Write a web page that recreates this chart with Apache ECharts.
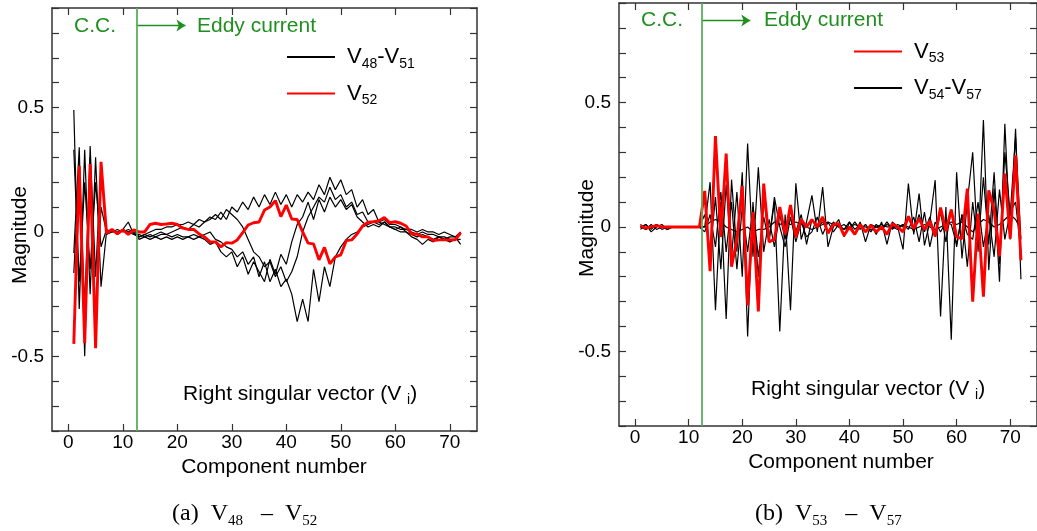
<!DOCTYPE html>
<html>
<head>
<meta charset="utf-8">
<script src="https://cdn.jsdelivr.net/npm/echarts@6/dist/echarts.min.js"></script>
<style>
html,body{margin:0;padding:0;background:#fff;}
#chart{width:1037px;height:531px;}
</style>
</head>
<body>
<div id="chart"></div>
<script>
// ---------- data ----------
const components = [1,2,3,4,5,6,7,8,9,10,11,12,13,14,15,16,17,18,19,20,21,22,23,24,25,26,27,28,29,30,31,32,33,34,35,36,
  37,38,39,40,41,42,43,44,45,46,47,48,49,50,51,52,53,54,55,56,57,58,59,60,61,62,63,64,65,66,67,68,69,70,71,72];
const xTickValues = [0,10,20,30,40,50,60,70];
const yTickValues = [-0.8,-0.7,-0.6,-0.5,-0.4,-0.3,-0.2,-0.1,0,0.1,0.2,0.3,0.4,0.5,0.6,0.7,0.8,0.9];
const yLabelValues = [-0.5,0,0.5];

// panel (a): V48 - V51 (black), V52 (red)
const v48 = [0.49,-0.31,0.33,-0.25,0.30,-0.22,0.00,0.01,-0.01,0.01,0.04,-0.01,-0.02,-0.01,0.00,0.01,0.01,0.02,0.02,0.03,
  0.03,0.04,0.03,0.05,0.04,0.06,0.05,0.08,0.05,0.10,0.08,0.12,0.09,0.14,0.10,0.15,0.11,0.16,0.11,0.15,
  0.10,0.15,0.12,0.16,0.13,0.19,0.15,0.22,0.17,0.21,0.15,0.17,0.10,0.13,0.07,0.09,0.04,0.03,0.02,0.01,
  0.02,0.01,0.01,0.00,0.01,0.00,0.00,-0.01,0.00,-0.01,-0.02,0.00];
const v49 = [0.33,-0.20,0.20,-0.15,0.20,-0.06,0.01,0.00,0.01,0.00,0.01,0.00,-0.03,-0.02,-0.03,-0.02,-0.03,-0.02,-0.03,-0.02,
  -0.03,-0.02,-0.01,-0.02,-0.01,0.00,-0.03,-0.04,-0.06,-0.07,-0.10,-0.08,-0.13,-0.10,-0.18,-0.12,-0.20,-0.15,-0.22,-0.19,
  -0.25,-0.36,-0.27,-0.36,-0.15,-0.28,-0.14,-0.22,-0.10,-0.06,-0.03,-0.01,0.00,0.02,0.03,0.04,0.04,0.05,0.03,0.03,
  0.02,0.00,-0.02,-0.03,-0.05,-0.03,-0.04,-0.02,-0.03,-0.02,-0.02,-0.05];
const v50 = [-0.085,0.34,-0.50,0.345,-0.18,0.27,-0.01,0.00,0.00,0.01,0.00,0.01,-0.02,-0.01,-0.02,-0.01,0.00,-0.01,0.00,0.01,
  0.02,0.01,0.03,0.02,0.04,0.05,0.07,0.05,0.09,0.07,0.05,0.02,-0.03,-0.08,-0.10,-0.14,-0.12,-0.18,-0.14,-0.20,
  -0.16,-0.10,0.00,0.06,0.10,0.14,0.12,0.18,0.13,0.15,0.10,0.12,0.07,0.08,0.04,0.04,0.03,0.04,0.02,0.01,
  0.00,0.00,-0.01,-0.02,-0.01,-0.02,-0.03,-0.02,-0.03,-0.04,-0.03,-0.03];
const v51 = [-0.165,0.25,-0.30,0.30,-0.35,0.10,0.00,0.01,-0.01,0.01,0.00,-0.01,-0.01,-0.02,-0.01,-0.02,-0.01,-0.01,-0.02,-0.01,
  -0.02,-0.02,-0.03,-0.02,-0.03,-0.05,-0.04,-0.08,-0.10,-0.08,-0.14,-0.10,-0.17,-0.12,-0.16,-0.20,-0.11,-0.17,-0.09,-0.13,
  -0.04,0.03,0.06,0.12,0.05,0.13,0.08,0.14,0.10,0.13,0.09,0.11,0.06,0.04,0.02,0.03,0.02,0.04,0.02,0.02,
  0.01,0.01,0.00,-0.01,0.00,-0.01,-0.01,-0.02,-0.02,-0.03,-0.03,-0.01];
const v52 = [-0.45,0.265,-0.447,0.273,-0.467,0.282,-0.005,0.01,-0.008,0.008,-0.01,0.008,0.0,0.0,0.03,0.035,0.03,0.032,0.035,0.03,
  0.015,0.01,0.01,-0.008,-0.02,-0.04,-0.04,-0.06,-0.043,-0.045,-0.032,-0.003,0.028,0.037,0.04,0.088,0.10,0.126,0.062,0.108,
  0.052,0.05,0.0,-0.045,-0.048,-0.112,-0.062,-0.128,-0.10,-0.092,-0.035,-0.032,-0.008,0.024,0.039,0.041,0.045,0.058,0.037,0.041,
  0.035,0.024,-0.008,-0.008,-0.02,-0.02,-0.035,-0.032,-0.032,-0.032,-0.032,-0.003];

// panel (b): V53 (red), V54 - V57 (black)
const v53 = [0.005,-0.005,0.0,0.005,0.0,0.0,0.0,0.0,0.0,0.0,0.0,0.0,
  0.145,-0.178,0.365,-0.04,0.295,-0.16,-0.05,0.164,-0.315,0.06,-0.34,0.174,
  -0.06,-0.05,0.08,-0.03,0.088,-0.04,0.03,0.0,0.03,0.0,0.04,-0.025,
  0.01,0.013,-0.034,0.0,-0.03,0.01,-0.02,0.007,-0.02,0.0,-0.03,0.013,
  0.0,-0.02,0.043,-0.007,0.033,-0.01,0.024,-0.037,0.078,-0.016,0.07,-0.04,
  -0.047,0.154,-0.30,0.054,-0.28,0.147,0.067,-0.118,0.214,-0.047,0.288,-0.134];
const v54 = [0.01,-0.01,0.0,0.01,-0.01,0.0,0.0,0.0,0.0,0.0,0.0,0.0,
  0.0,0.18,-0.335,0.10,-0.37,0.19,-0.10,0.22,-0.44,0.10,-0.20,0.12,
  -0.05,0.10,-0.42,0.05,-0.335,0.175,-0.05,0.02,0.127,-0.02,0.16,-0.08,
  0.0,0.03,-0.04,0.02,-0.03,0.02,-0.06,0.01,-0.03,0.02,-0.07,0.02,
  0.0,-0.09,0.174,-0.03,0.134,-0.074,0.02,0.188,-0.36,0.08,-0.453,0.22,
  -0.127,0.10,0.30,-0.10,0.43,-0.174,0.154,-0.22,0.415,-0.05,0.395,-0.21];
const v55 = [-0.01,0.01,-0.02,0.0,0.01,-0.01,0.0,0.0,0.0,0.0,0.0,0.0,
  0.05,-0.10,0.12,-0.17,0.17,-0.12,0.14,-0.20,0.335,-0.12,0.24,-0.10,
  0.03,-0.08,0.05,-0.05,0.07,-0.02,0.05,-0.07,0.03,0.0,0.02,-0.02,
  0.02,0.0,0.01,-0.01,0.02,-0.01,0.01,-0.02,0.01,-0.01,0.02,-0.01,
  0.01,0.0,0.04,-0.02,0.05,-0.02,0.04,-0.04,0.06,-0.06,0.07,-0.08,
  0.05,-0.16,0.10,-0.08,0.20,-0.07,0.22,-0.15,0.30,0.05,0.36,-0.05];
const v56 = [0.0,0.01,-0.01,0.01,0.0,-0.01,0.0,0.0,0.0,0.0,0.0,0.0,
  -0.02,0.05,-0.08,0.14,-0.10,0.10,-0.17,0.08,-0.10,0.08,-0.12,0.04,
  -0.06,0.12,0.00,-0.08,0.04,-0.06,0.02,-0.04,-0.02,0.04,-0.03,0.02,
  -0.02,0.01,-0.01,0.02,-0.01,0.01,-0.02,0.01,0.0,-0.01,0.01,0.0,
  -0.01,0.01,-0.01,0.04,-0.06,0.06,-0.08,0.02,-0.02,0.02,0.01,-0.07,
  0.05,-0.03,-0.05,0.10,-0.08,0.05,-0.12,0.15,-0.05,0.06,0.10,-0.10];
const v57 = [0.0,-0.01,0.01,-0.01,0.0,0.0,0.0,0.0,0.0,0.0,0.0,0.0,
  0.0,0.02,0.03,0.02,0.0,-0.01,-0.02,-0.01,0.0,-0.02,-0.01,-0.01,
  0.0,0.02,0.01,0.02,0.01,0.02,0.01,0.0,-0.01,0.0,0.01,0.02,
  0.01,0.0,-0.01,0.0,0.01,0.0,0.0,-0.01,0.0,0.01,0.0,0.0,
  0.0,0.01,0.0,-0.01,0.0,0.01,0.0,-0.01,0.0,0.01,0.02,0.01,
  0.02,0.0,-0.02,0.01,0.03,0.02,0.0,0.01,0.03,0.05,0.03,-0.01];

const boundaryX = 12.5;
const arrowFrom = [12.5, 0.83];
const arrowTo = [21.5, 0.83];

// ---------- styles ----------
const FONT = 'Liberation Sans, Arial, Helvetica, sans-serif';
const SERIF = 'Liberation Serif, Times New Roman, serif';
const AX = '#333';
const GREEN_TXT = '#1f8f1f';
const GREEN_LINE = '#5aae5a';
const TICK_FS = 19;

const pairs = arr => components.map((c, k) => [c, arr[k]]);

function xAxisPair(grid) {
  return [
    { gridIndex: grid, type: 'value', min: -3, max: 75, position: 'bottom',
      axisLine: { show: true, onZero: false, lineStyle: { color: AX, width: 1.5 } },
      axisTick: { show: true, inside: true, length: 7, customValues: xTickValues, lineStyle: { color: AX, width: 1.2 } },
      axisLabel: { show: true, customValues: xTickValues, fontSize: TICK_FS, fontFamily: FONT, color: '#000', margin: 2 },
      splitLine: { show: false } },
    { gridIndex: grid, type: 'value', min: -3, max: 75, position: 'top',
      axisLine: { show: true, onZero: false, lineStyle: { color: AX, width: 1.5 } },
      axisTick: { show: true, inside: true, length: 7, customValues: xTickValues, lineStyle: { color: AX, width: 1.2 } },
      axisLabel: { show: false }, splitLine: { show: false } }
  ];
}
function yAxisPair(grid) {
  return [
    { gridIndex: grid, type: 'value', min: -0.8, max: 0.9, interval: 0.1, position: 'left',
      axisLine: { show: true, onZero: false, lineStyle: { color: AX, width: 1.5 } },
      axisTick: { show: true, inside: true, length: 7, customValues: yTickValues, lineStyle: { color: AX, width: 1.2 } },
      axisLabel: { show: true, customValues: yLabelValues, fontSize: TICK_FS, fontFamily: FONT, color: '#000', margin: 8 },
      splitLine: { show: false } },
    { gridIndex: grid, type: 'value', min: -0.8, max: 0.9, interval: 0.1, position: 'right',
      axisLine: { show: true, onZero: false, lineStyle: { color: AX, width: 1.5 } },
      axisTick: { show: true, inside: true, length: 7, customValues: yTickValues, lineStyle: { color: AX, width: 1.2 } },
      axisLabel: { show: false }, splitLine: { show: false } }
  ];
}

function blackSeries(name, arr, xi, yi, extra) {
  return Object.assign({
    name, type: 'line', xAxisIndex: xi, yAxisIndex: yi, data: pairs(arr),
    symbol: 'none', silent: true, z: 3,
    lineStyle: { color: '#000', width: 1.2 }, itemStyle: { color: '#000' }
  }, extra || {});
}
function redSeries(name, arr, xi, yi, extra) {
  return Object.assign({
    name, type: 'line', xAxisIndex: xi, yAxisIndex: yi, data: pairs(arr),
    symbol: 'none', silent: true, z: 4,
    lineStyle: { color: '#ff0000', width: 2.9 }, itemStyle: { color: '#ff0000' }
  }, extra || {});
}
const vLine = {
  silent: true, symbol: 'none', label: { show: false },
  lineStyle: { color: GREEN_LINE, width: 1.8, type: 'solid' },
  data: [{ xAxis: boundaryX }]
};
const arrowLine = {
  silent: true, symbol: ['none', 'arrow'], symbolSize: 9, label: { show: false },
  lineStyle: { color: GREEN_TXT, width: 1.3, type: 'solid' },
  data: [[{ coord: arrowFrom }, { coord: arrowTo }]]
};

const legRich = {
  f: { fontSize: 22, lineHeight: 22, fontFamily: FONT, color: '#000', padding: [0, 0, 0, 7] },
  v: { fontSize: 22, lineHeight: 22, fontFamily: FONT, color: '#000' },
  s: { fontSize: 14, lineHeight: 14, fontFamily: FONT, color: '#000', padding: [14, 0, 0, 0] }
};
const legFmt = {
  'V48-V51': '{f|V}{s|48}{v|-V}{s|51}',
  'V52': '{f|V}{s|52}',
  'V53': '{f|V}{s|53}',
  'V54-V57': '{f|V}{s|54}{v|-V}{s|57}'
};

function txt(x, y, text, opts) {
  return { type: 'text', x, y, silent: true, rotation: (opts && opts.rotation) || 0,
    style: Object.assign({ text, fill: '#000', fontSize: 21, fontFamily: FONT, align: 'left', verticalAlign: 'middle' }, opts && opts.style) };
}
const capRich = {
  n: { fontSize: 24, fontFamily: SERIF, fill: '#000', color: '#000', lineHeight: 27 },
  s: { fontSize: 15, fontFamily: SERIF, fill: '#000', color: '#000', lineHeight: 15, padding: [15, 0, 0, 0] }
};
const rsRich = {
  n: { fontSize: 21, fontFamily: FONT, fill: '#000', color: '#000', lineHeight: 24 },
  s: { fontSize: 14, fontFamily: FONT, fill: '#000', color: '#000', lineHeight: 14, padding: [12, 0, 0, 0] }
};

const option = {
  animation: false,
  backgroundColor: '#fff',
  grid: [
    { left: 52, top: 8, width: 425, height: 423 },
    { left: 619, top: 3, width: 425, height: 423 }
  ],
  xAxis: [].concat(xAxisPair(0), xAxisPair(1)),
  yAxis: [].concat(yAxisPair(0), yAxisPair(1)),
  legend: [
    { orient: 'vertical', left: 286, top: 43, padding: 0, itemWidth: 48, itemHeight: 14, itemGap: 8.6,
      itemStyle: { opacity: 0 }, selectedMode: false, data: ['V48-V51', 'V52'],
      formatter: n => legFmt[n], textStyle: { rich: legRich } },
    { orient: 'vertical', left: 853, top: 37.5, padding: 0, itemWidth: 48, itemHeight: 14, itemGap: 8.6,
      itemStyle: { opacity: 0 }, selectedMode: false, data: ['V53', 'V54-V57'],
      formatter: n => legFmt[n], textStyle: { rich: legRich } }
  ],
  series: [
    blackSeries('V48-V51', v48, 0, 0, { markLine: arrowLine }),
    blackSeries('V48-V51', v49, 0, 0),
    blackSeries('V48-V51', v50, 0, 0),
    blackSeries('V48-V51', v51, 0, 0),
    redSeries('V52', v52, 0, 0, { markLine: vLine }),
    blackSeries('V54-V57', v54, 2, 2, { markLine: arrowLine }),
    blackSeries('V54-V57', v55, 2, 2),
    blackSeries('V54-V57', v56, 2, 2),
    blackSeries('V54-V57', v57, 2, 2),
    redSeries('V53', v53, 2, 2, { markLine: vLine })
  ],
  graphic: [
    txt(74, 26, 'C.C.', { style: { fill: GREEN_TXT } }),
    txt(197, 26, 'Eddy current', { style: { fill: GREEN_TXT } }),
    txt(641, 20, 'C.C.', { style: { fill: GREEN_TXT } }),
    txt(764, 20, 'Eddy current', { style: { fill: GREEN_TXT } }),
    txt(183, 394, '{n|Right singular vector (V }{s|i}{n|)}', { style: { rich: rsRich } }),
    txt(751, 389, '{n|Right singular vector (V }{s|i}{n|)}', { style: { rich: rsRich } }),
    txt(274, 467, 'Component number', { style: { align: 'center' } }),
    txt(841, 462, 'Component number', { style: { align: 'center' } }),
    txt(20, 235, 'Magnitude', { rotation: Math.PI / 2, style: { align: 'center' } }),
    txt(587, 228, 'Magnitude', { rotation: Math.PI / 2, style: { align: 'center' } }),
    txt(172, 514, '{n|(a)  V}{s|48}{n|   –  V}{s|52}', { style: { rich: capRich } }),
    txt(755, 514, '{n|(b)  V}{s|53}{n|   –  V}{s|57}', { style: { rich: capRich } })
  ]
};

const chart = echarts.init(document.getElementById('chart'), null, { renderer: 'canvas' });
chart.setOption(option);
</script>
</body>
</html>
